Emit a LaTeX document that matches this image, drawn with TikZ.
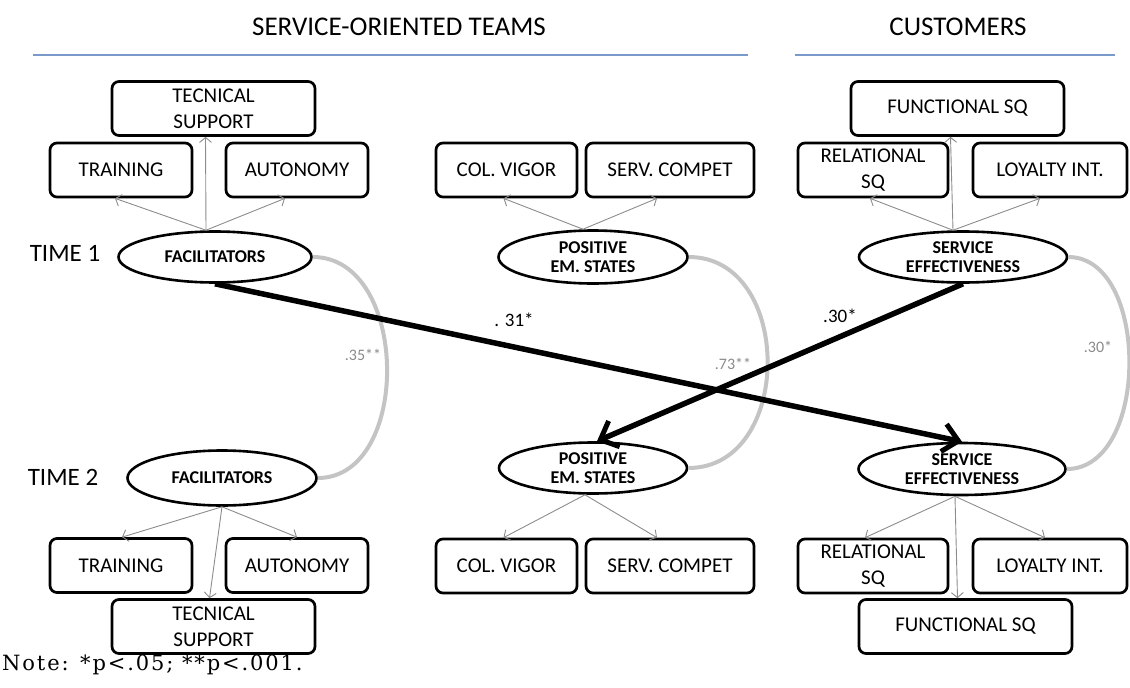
\documentclass[tikz,border=0pt]{standalone}
\usepackage{fontspec}
\setmainfont{Carlito}
\newfontfamily\notefont[LetterSpace=9]{DejaVu Serif}
\usetikzlibrary{arrows.meta,shapes.geometric}

\definecolor{rulecol}{HTML}{7A9BC9}
\definecolor{arcgray}{HTML}{C4C4C4}
\definecolor{loadgray}{HTML}{8C8C8C}
\definecolor{labgray}{HTML}{8A8A8A}

\begin{document}
\begin{tikzpicture}[x=1pt,y=-1pt,
  box/.style={draw, line width=2.7pt, rounded corners=7pt, fill=white,
    align=center, inner sep=0pt, minimum height=54pt,
    font=\fontsize{21}{26}\selectfont},
  latent/.style={draw, ellipse, line width=2.6pt, fill=white, align=center,
    inner sep=0pt, font=\bfseries\fontsize{18}{19}\selectfont},
  header/.style={font=\fontsize{27}{27}\selectfont},
  timelab/.style={font=\fontsize{25}{25}\selectfont},
  rulestyle/.style={draw=rulecol, line width=1.8pt},
  load/.style={draw=loadgray, line width=0.9pt,
    -{Straight Barb[length=5pt,width=12pt,line width=0.9pt]}},
  covar/.style={draw=arcgray, line width=4pt},
  covlab/.style={text=labgray, font=\fontsize{16}{16}\selectfont},
  effect/.style={draw=black, line width=5.5pt,
    -{Straight Barb[length=15pt,width=28pt,line width=5pt]}},
  efflab/.style={font=\fontsize{19}{19}\selectfont}
]
\useasboundingbox (0,0) rectangle (1130,688);

% column headings and rules
\node[header] (hteams) at (399,27) {SERVICE-ORIENTED TEAMS};
\node[header] (hcust) at (958,27) {CUSTOMERS};
\coordinate (rl0) at (33,55);  \coordinate (rl1) at (748,55);
\coordinate (rr0) at (795,55); \coordinate (rr1) at (1115,55);
\draw[rulestyle] (rl0) -- (rl1);
\draw[rulestyle] (rr0) -- (rr1);

% time labels
\node[timelab] (t1) at (65,253) {TIME 1};
\node[timelab] (t2) at (63,477) {TIME 2};

% ---------- time 1 indicators ----------
\node[box, minimum width=203pt] (ts1) at (213.5,108.5) {TECNICAL\\SUPPORT};
\node[box, minimum width=142pt] (tr1) at (121,170) {TRAINING};
\node[box, minimum width=142pt] (au1) at (297,170) {AUTONOMY};
\node[box, minimum width=141pt] (cv1) at (506.5,170) {COL. VIGOR};
\node[box, minimum width=168pt] (sc1) at (670,170) {SERV. COMPET};
\node[box, minimum width=213pt] (fs1) at (957.5,108.5) {FUNCTIONAL SQ};
\node[box, minimum width=150pt] (rs1) at (873,170) {RELATIONAL\\SQ};
\node[box, minimum width=154pt] (li1) at (1050,170) {LOYALTY INT.};

% ---------- time 1 latent factors ----------
\node[latent, minimum width=193pt, minimum height=51pt] (f1) at (215,257) {FACILITATORS};
\node[latent, minimum width=189pt, minimum height=53pt] (p1) at (593,257) {POSITIVE\\EM. STATES};
\node[latent, minimum width=208pt, minimum height=51pt] (s1) at (963,257) {SERVICE\\EFFECTIVENESS};

% ---------- time 2 latent factors ----------
\node[latent, minimum width=189pt, minimum height=55pt] (f2) at (222,478) {FACILITATORS};
\node[latent, minimum width=188pt, minimum height=51pt] (p2) at (593,468) {POSITIVE\\EM. STATES};
\node[latent, minimum width=207pt, minimum height=52pt] (s2) at (962,469) {SERVICE\\EFFECTIVENESS};

% ---------- time 2 indicators ----------
\node[box, minimum width=142pt] (tr2) at (121,565.5) {TRAINING};
\node[box, minimum width=142pt] (au2) at (297,565.5) {AUTONOMY};
\node[box, minimum width=203pt] (ts2) at (213.5,626.5) {TECNICAL\\SUPPORT};
\node[box, minimum width=141pt] (cv2) at (506.5,566) {COL. VIGOR};
\node[box, minimum width=168pt] (sc2) at (670,566) {SERV. COMPET};
\node[box, minimum width=150pt] (rs2) at (873,566) {RELATIONAL\\SQ};
\node[box, minimum width=154pt] (li2) at (1050,566) {LOYALTY INT.};
\node[box, minimum width=213pt] (fs2) at (965.5,626.5) {FUNCTIONAL SQ};

% ---------- stability covariances ----------
\draw[covar] (f1.east) .. controls (410,257) and (412,478) .. (f2.east);
\draw[covar] (p1.east) .. controls (794,257) and (794,468) .. (p2.east);
\draw[covar] (s1.east) .. controls (1150,257) and (1150,469) .. (s2.east);
\node[covlab] (c1) at (363,355) {.35**};
\node[covlab] (c2) at (733,364) {.73**};
\node[covlab] (c3) at (1098,347) {.30*};

% ---------- measurement loadings, time 1 ----------
\draw[load] ([xshift=-9pt]f1.north) -- ([xshift=-6pt]tr1.south);
\draw[load] ([xshift=-9pt]f1.north) -- ([xshift=-12pt]au1.south);
\draw[load] ([xshift=-9pt]f1.north) -- ([xshift=-8pt]ts1.south);
\draw[load] ([xshift=-10pt]p1.north) -- ([xshift=-3pt]cv1.south);
\draw[load] ([xshift=-10pt]p1.north) -- ([xshift=-13pt]sc1.south);
\draw[load] ([xshift=-10pt]s1.north) -- ([xshift=-3pt]rs1.south);
\draw[load] ([xshift=-10pt]s1.north) -- ([xshift=-10pt]li1.south);
\draw[load] ([xshift=-10pt]s1.north) -- ([xshift=-7pt]fs1.south);

% ---------- measurement loadings, time 2 ----------
\draw[load] (f2.south) -- ([xshift=1pt]tr2.north);
\draw[load] (f2.south) -- (au2.north);
\draw[load] (f2.south) -- ([xshift=-4pt]ts2.north);
\draw[load] ([xshift=-8pt]p2.south) -- ([xshift=-3pt]cv2.north);
\draw[load] ([xshift=-8pt]p2.south) -- ([xshift=-13pt]sc2.north);
\draw[load] ([xshift=-7pt]s2.south) -- ([xshift=-8pt]rs2.north);
\draw[load] ([xshift=-7pt]s2.south) -- ([xshift=-5pt]li2.north);
\draw[load] ([xshift=-7pt]s2.south) -- ([xshift=-8pt]fs2.north);

% ---------- cross-lagged effects ----------
\draw[effect] (f1.south) -- (s2.north);
\draw[effect] (s1.south) -- ([xshift=4pt]p2.north);
\node[efflab] (e1) at (514,320) {. 31*};
\node[efflab] (e2) at (840,316) {.30*};

% note
\node[anchor=west, inner sep=0pt, font=\notefont\fontsize{21}{21}\selectfont] (note) at (2,665) {Note: *p<.05; **p<.001.};
\end{tikzpicture}
\end{document}
